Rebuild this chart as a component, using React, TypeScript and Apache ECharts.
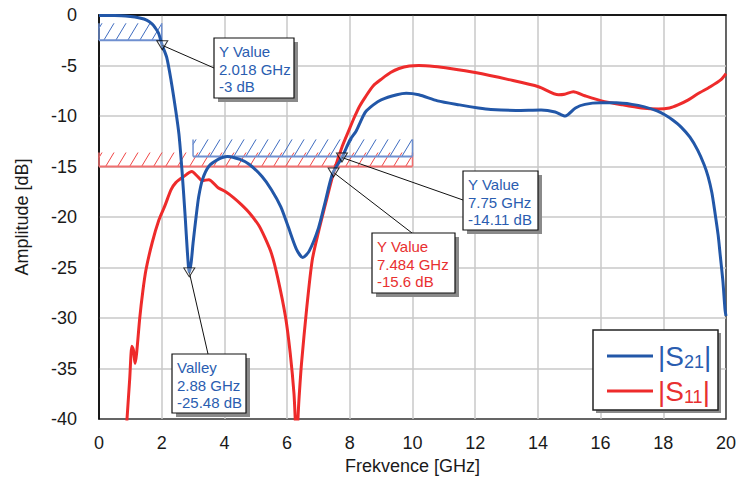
import React, { useEffect, useRef } from "react";
import * as echarts from "echarts";

const FONT = "'Liberation Sans', Arial, sans-serif";
const BLUE = "#2257a8";
const RED = "#ee2b2b";
const BLUE_TXT = "#2a5db0";
const RED_TXT = "#e83030";

// |S21| curve
const s21Freq = [0, 0.5, 1.0, 1.3, 1.52, 1.7, 1.8, 1.9, 2.018, 2.16, 2.3, 2.45, 2.55, 2.65, 2.75, 2.82, 2.88, 2.94, 3.0, 3.1, 3.18, 3.3, 3.5, 3.8, 4.1, 4.5, 4.8, 5.2, 5.5, 5.8, 6.04, 6.3, 6.5, 6.7, 7.0, 7.2, 7.45, 7.75, 8.0, 8.2, 8.35, 8.5, 8.75, 9.0, 9.5, 9.8, 10.2, 10.8, 11.5, 12.1, 12.5, 13.3, 14.1, 14.55, 14.87, 15.2, 15.5, 16.0, 16.5, 17.0, 17.4, 17.8, 18.06, 18.3, 18.57, 18.85, 19.1, 19.3, 19.43, 19.55, 19.65, 19.75, 19.81, 19.9, 19.97, 20];
const s21Value = [-0.05, -0.05, -0.15, -0.3, -0.5, -0.9, -1.3, -1.8, -3, -4.2, -6.5, -9.5, -11.8, -15.5, -20, -23.5, -25.48, -24.5, -22.6, -19.9, -18, -16.3, -15.0, -14.3, -14.0, -14.3, -14.8, -16, -17.3, -19, -21, -23.2, -24, -23.4, -21.1, -18.7, -15.7, -14.11, -12.4, -11.5, -10.5, -9.6, -8.9, -8.4, -7.9, -7.75, -7.9, -8.5, -8.9, -9.2, -9.35, -9.45, -9.4, -9.6, -10.0, -9.2, -8.85, -8.7, -8.7, -8.85, -9.1, -9.5, -9.9, -10.4, -11.1, -12.1, -13.4, -14.8, -16, -17.6, -19.6, -21.8, -23.6, -26.3, -29.2, -29.8];

// |S11| curve
const s11Freq = [0.85, 0.98, 1.05, 1.1, 1.15, 1.2, 1.3, 1.4, 1.5, 1.7, 1.91, 2.1, 2.3, 2.45, 2.7, 2.96, 3.15, 3.3, 3.5, 3.8, 4.04, 4.3, 4.55, 4.8, 5.09, 5.3, 5.5, 5.7, 5.95, 6.1, 6.22, 6.3, 6.38, 6.46, 6.62, 6.8, 7.0, 7.25, 7.484, 7.76, 8.0, 8.15, 8.3, 8.5, 8.75, 9.03, 9.3, 9.57, 9.9, 10.2, 10.7, 11.2, 12.0, 13.07, 14.02, 14.66, 14.85, 15.13, 15.5, 16.03, 16.7, 17.3, 17.84, 18.2, 18.47, 18.8, 19.1, 19.5, 19.84, 20];
const s11Value = [-42, -36, -32.8, -33.2, -34.5, -33.5, -30, -27.3, -25.2, -22.5, -20.3, -18.9, -17.3, -16.6, -16, -15.5, -16.0, -16.4, -16.3, -17.1, -17.5, -18.1, -18.8, -19.6, -20.8, -22.1, -23.6, -26, -29.9, -33.5, -37.5, -42, -38, -34.5, -29.2, -24.3, -21.5, -18.4, -15.6, -13, -11.2, -10.1, -9.1, -8.1, -7.0, -6.3, -5.7, -5.3, -5.05, -5.0, -5.1, -5.3, -5.7, -6.4, -7.1, -7.9, -7.85, -7.6, -8.0, -8.5, -8.9, -9.2, -9.3, -9.2, -8.9, -8.4, -7.8, -7.1, -6.4, -5.8];

// limit masks
const maskS21Start = [0, 3];
const maskS21End = [2, 10];
const maskS21Level = [-2.5, -14];
const maskS11Start = [0];
const maskS11End = [10];
const maskS11Level = [-15];

// markers
const markerKind = ["Y Value", "Y Value", "Y Value", "Valley"];
const markerSeries = ["S21", "S21", "S11", "S21"];
const markerFreq = [2.018, 7.75, 7.484, 2.88];
const markerLevel = [-3, -14.11, -15.6, -25.48];

// axis ticks
const xTicks = [0, 2, 4, 6, 8, 10, 12, 14, 16, 18, 20];
const yTicks = [0, -5, -10, -15, -20, -25, -30, -35, -40];

// annotation boxes (layout, pixels)
const boxLayout = [
  { x: 214, y: 38, w: 80, h: 60, ax: 214, ay: 68 },
  { x: 463, y: 171, w: 75, h: 59, ax: 463, ay: 200 },
  { x: 372, y: 233, w: 83, h: 60, ax: 412, ay: 233 },
  { x: 172, y: 354, w: 74, h: 59, ax: 208, ay: 354 },
];

function hatch(color: string, lineColor: string, hh: number, spacing: number) {
  return (params: any, api: any) => {
    const x0 = api.value(0);
    const x1 = api.value(1);
    const lv = api.value(2);
    const pA = api.coord([x0, lv]);
    const pB = api.coord([x1, lv]);
    const yb = pA[1];
    const yt = yb - hh;
    const xl = pA[0];
    const xr = pB[0];
    const k = 0.6;
    const dx = hh * k;
    const children: any[] = [];
    for (let xs = xl - dx + 3; xs < xr; xs += spacing) {
      let ax = xs, ay = yb, bx = xs + dx, by = yt;
      if (ax < xl) {
        const t = (xl - ax) / dx;
        ax = xl;
        ay = yb - t * hh;
      }
      if (bx > xr) {
        const t = (bx - xr) / dx;
        bx = xr;
        by = yt + t * hh;
      }
      if (bx <= ax) continue;
      children.push({ type: "line", shape: { x1: ax, y1: ay, x2: bx, y2: by }, style: { stroke: color, lineWidth: 1 } });
    }
    children.push({ type: "line", shape: { x1: xl, y1: yb, x2: xr, y2: yb }, style: { stroke: lineColor, lineWidth: 2 } });
    children.push({ type: "line", shape: { x1: xl, y1: yb, x2: xl, y2: yt }, style: { stroke: lineColor, lineWidth: 1.5 } });
    children.push({ type: "line", shape: { x1: xr, y1: yb, x2: xr, y2: yt }, style: { stroke: lineColor, lineWidth: 1.5 } });
    return { type: "group", children };
  };
}

export default function App() {
  const ref = useRef<HTMLDivElement>(null);
  useEffect(() => {
    document.body.style.margin = "0";
    const chart = echarts.init(ref.current!, null, { renderer: "svg" });
    const s21Data = s21Freq.map((f, i) => [f, s21Value[i]]);
    const s11Data = s11Freq.map((f, i) => [f, s11Value[i]]);
    const m21 = maskS21Start.map((s, i) => [s, maskS21End[i], maskS21Level[i]]);
    const m11 = maskS11Start.map((s, i) => [s, maskS11End[i], maskS11Level[i]]);
    const markerData = markerFreq.map((f, i) => [f, markerLevel[i]]);

    const option: any = {
      animation: false,
      backgroundColor: "#fff",
      textStyle: { fontFamily: FONT },
      grid: { left: 99, right: 11, top: 15, bottom: 67, show: true, borderColor: "#333", borderWidth: 1.5, backgroundColor: "#fff" },
      xAxis: {
        type: "value",
        min: xTicks[0],
        max: xTicks[xTicks.length - 1],
        interval: xTicks[1] - xTicks[0],
        name: "Frekvence [GHz]",
        nameLocation: "middle",
        nameGap: 38,
        nameTextStyle: { fontSize: 18, color: "#1a1a1a", fontFamily: FONT },
        axisLine: { show: true, lineStyle: { color: "#000", width: 1.5 } },
        axisTick: { show: false },
        axisLabel: { fontSize: 18, color: "#1a1a1a", margin: 15, fontFamily: FONT },
        splitLine: { show: true, showMinLine: false, showMaxLine: false, lineStyle: { color: "#c8c8c8", width: 1.5 } },
      },
      yAxis: {
        type: "value",
        min: yTicks[yTicks.length - 1],
        max: yTicks[0],
        interval: yTicks[0] - yTicks[1],
        name: "Amplitude [dB]",
        nameLocation: "middle",
        nameGap: 68,
        nameTextStyle: { fontSize: 18, color: "#1a1a1a", fontFamily: FONT },
        axisLine: { show: true, lineStyle: { color: "#000", width: 1.5 } },
        axisTick: { show: false },
        axisLabel: { fontSize: 18, color: "#1a1a1a", margin: 22, fontFamily: FONT },
        splitLine: { show: true, showMinLine: false, showMaxLine: false, lineStyle: { color: "#c8c8c8", width: 1.5 } },
      },
      legend: {
        orient: "vertical",
        left: 602,
        top: 337,
        z: 6,
        itemWidth: 46,
        itemHeight: 3,
        itemGap: 6,
        icon: "rect",
        data: ["S21", "S11"],
        formatter: (name: string) =>
          name === "S21" ? "{b||S}{bs|21}{b||}" : "{r||S}{rs|11}{r||}",
        textStyle: {
          rich: {
            b: { fontSize: 28, color: BLUE_TXT, lineHeight: 30, fontFamily: FONT },
            bs: { fontSize: 18, color: BLUE_TXT, lineHeight: 26, verticalAlign: "bottom", fontFamily: FONT },
            r: { fontSize: 28, color: RED_TXT, lineHeight: 30, fontFamily: FONT },
            rs: { fontSize: 18, color: RED_TXT, lineHeight: 26, verticalAlign: "bottom", fontFamily: FONT },
          },
        },
      },
      series: [
        {
          type: "custom",
          name: "maskS11",
          renderItem: hatch("#f04545", "#f07070", 14, 12),
          data: m11,
          encode: { x: [0, 1], y: 2 },
          z: 1,
          silent: true,
        },
        {
          type: "custom",
          name: "maskS21",
          renderItem: hatch("#3f6cc0", "#6f90d0", 17, 12),
          data: m21,
          encode: { x: [0, 1], y: 2 },
          z: 1,
          silent: true,
        },
        {
          type: "line",
          name: "S11",
          data: s11Data,
          showSymbol: false,
          symbol: "none",
          smooth: 0.25,
          lineStyle: { color: RED, width: 3 },
          itemStyle: { color: RED },
          z: 2,
        },
        {
          type: "line",
          name: "S21",
          data: s21Data,
          showSymbol: false,
          symbol: "none",
          smooth: 0.25,
          lineStyle: { color: BLUE, width: 3 },
          itemStyle: { color: BLUE },
          z: 3,
        },
        {
          type: "scatter",
          name: "markers",
          data: markerData,
          symbol: "triangle",
          symbolRotate: 180,
          symbolSize: [11, 9],
          itemStyle: { color: "rgba(255,255,255,0.35)", borderColor: "#000", borderWidth: 1 },
          z: 8,
          silent: true,
        },
      ],
    };
    chart.setOption(option);

    const graphics: any[] = [];
    markerFreq.forEach((f, i) => {
      const p = chart.convertToPixel({ gridIndex: 0 }, [f, markerLevel[i]]) as number[];
      const b = boxLayout[i];
      const col = markerSeries[i] === "S11" ? RED_TXT : BLUE_TXT;
      graphics.push({
        type: "line",
        z: 7,
        shape: { x1: p[0], y1: p[1], x2: b.ax, y2: b.ay },
        style: { stroke: "#111", lineWidth: 1 },
      });
      graphics.push({ type: "rect", z: 20, shape: { x: b.x + 4, y: b.y + 4, width: b.w, height: b.h }, style: { fill: "#8a8a8a" } });
      graphics.push({ type: "rect", z: 21, shape: { x: b.x, y: b.y, width: b.w, height: b.h }, style: { fill: "#fff", stroke: "#111", lineWidth: 1.2 } });
      graphics.push({
        type: "text",
        z: 22,
        x: b.x + 5,
        y: b.y + 5,
        style: {
          text: `${markerKind[i]}\n${markerFreq[i]} GHz\n${markerLevel[i]} dB`,
          fill: col,
          font: `15px ${FONT}`,
          lineHeight: 17.5,
          verticalAlign: "top",
          align: "left",
        },
      });
    });
    graphics.push({ type: "rect", z: 4, shape: { x: 596, y: 333, width: 125, height: 80 }, style: { fill: "#8a8a8a" } });
    graphics.push({ type: "rect", z: 5, shape: { x: 593, y: 330, width: 125, height: 80 }, style: { fill: "#fff", stroke: "#222", lineWidth: 1.5 } });
    chart.setOption({ graphic: graphics });

    return () => chart.dispose();
  }, []);
  return <div ref={ref} style={{ width: 739, height: 486 }} />;
}
